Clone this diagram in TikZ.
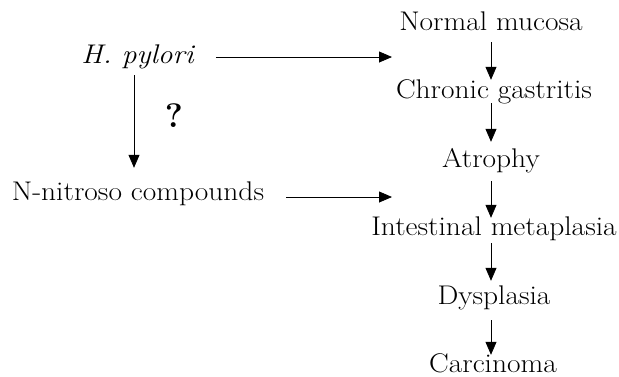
\documentclass[tikz,border=0pt]{standalone}
\usepackage{graphicx}
\usetikzlibrary{arrows.meta}
\newcommand\wideText[1]{\scalebox{1.09}[1]{#1}}
\begin{document}
\begin{tikzpicture}[x=1pt,y=-1pt,
  lbl/.style={inner sep=0pt, text height=17pt, text depth=5pt, anchor=base, font=\fontsize{27}{32}\selectfont},
  arr/.style={line width=0.8pt, -{Triangle[length=13pt,width=11pt]}}]
\useasboundingbox (0,0) rectangle (619,376);
% right column
\node[lbl] (nm) at (491,30) {\wideText{Normal mucosa}};
\node[lbl] (cg) at (494,98) {\wideText{Chronic gastritis}};
\node[lbl] (at) at (491,167) {\wideText{Atrophy}};
\node[lbl] (im) at (494,235) {\wideText{Intestinal metaplasia}};
\node[lbl] (dy) at (494,304) {\wideText{Dysplasia}};
\node[lbl] (ca) at (493,372) {\wideText{Carcinoma}};
% left
\node[lbl] (hp) at (137.5,63) {\wideText{\itshape H.\ pylori}};
\node[lbl] (nn) at (138,200) {\wideText{N-nitroso compounds}};
\node[inner sep=0pt, font=\fontsize{34}{38}\selectfont\bfseries] (q) at (174,116) {?};
\coordinate (hpend) at (392,57);
\coordinate (nnend) at (392,197);
% arrows
\draw[arr, shorten <=7pt, shorten >=1pt] (nm.south -| 491,0) -- (cg.north -| 491,0);
\draw[arr, shorten >=8pt] (cg.south -| 491,0) -- (at.north -| 491,0);
\draw[arr, shorten <=9pt] (at.south -| 491,0) -- (im.north -| 491,0);
\draw[arr, shorten <=3pt, shorten >=6pt] (im.south -| 491,0) -- (dy.north -| 491,0);
\draw[arr, shorten <=11pt] (dy.south -| 491,0) -- (ca.north -| 491,0);
\draw[arr, shorten <=22pt] (hp.east |- hpend) -- (hpend);
\draw[arr, shorten <=22pt] (nn.east |- nnend) -- (nnend);
\draw[arr, shorten <=7pt, shorten >=15pt] (hp.south -| 134,0) -- (nn.north -| 134,0);
\end{tikzpicture}
\end{document}
